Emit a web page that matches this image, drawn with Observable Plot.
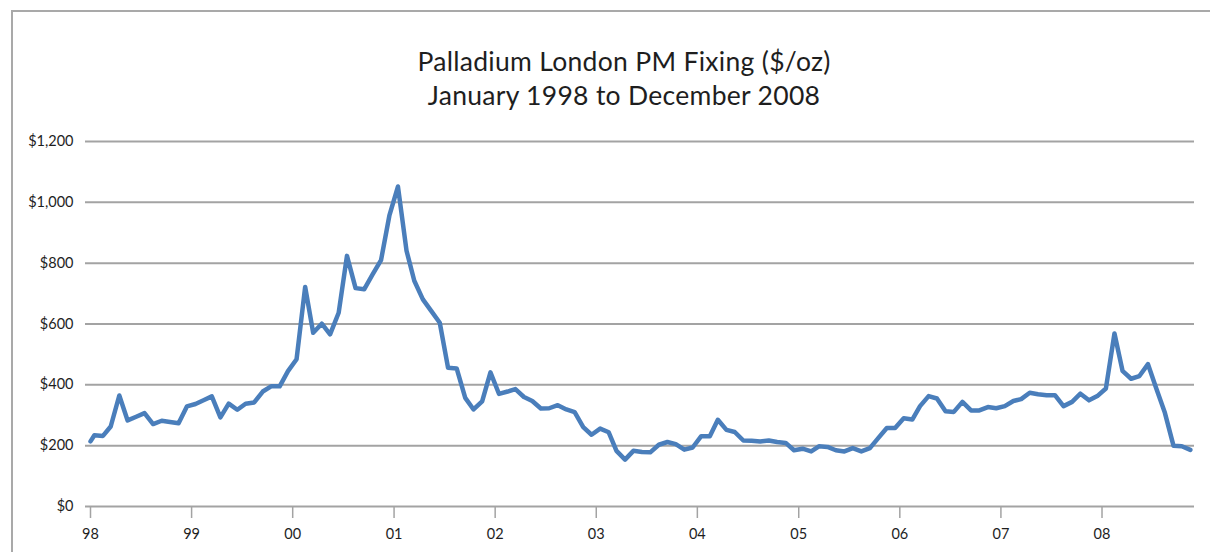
<!DOCTYPE html>
<html>
<head>
<meta charset="utf-8">
<script src="https://cdn.jsdelivr.net/npm/d3@7"></script>
<script src="https://cdn.jsdelivr.net/npm/@observablehq/plot@0.6"></script>
<style>
  html, body { margin: 0; padding: 0; background: #fff; }
  #wrap { position: relative; width: 1210px; height: 552px; overflow: hidden; font-family: Lato, "Open Sans", sans-serif; }
  #frame { position: absolute; left: 11px; top: 10px; width: 1300px; height: 700px; border-left: 2px solid #a9a9a9; border-top: 2px solid #a9a9a9; box-sizing: border-box; }
  #title { position: absolute; left: 24px; width: 1200px; top: 44px; text-align: center; color: #1e1e1e; font-size: 26.5px; letter-spacing: 0.3px; line-height: 34px; }
  #chart { position: absolute; left: 0; top: 0; }
</style>
</head>
<body>
<div id="wrap">
  <div id="frame"></div>
  <div id="chart"></div>
  <div id="title">Palladium London PM Fixing ($/oz)<br>January 1998 to December 2008</div>
</div>
<script>
// Monthly palladium London PM fixing readings ($/oz), first reading then Jan 1998 .. Nov 2008
const prices = [
  214,
  234, 232, 263, 365, 283, 295, 307, 271, 282, 278, 274, 329,
  337, 350, 362, 293, 338, 318, 338, 342, 378, 395, 395, 445,
  484, 722, 571, 601, 566, 637, 824, 718, 714, 762, 810, 956,
  1052, 841, 742, 681, 643, 604, 456, 454, 357, 319, 346, 441,
  370, 378, 386, 360, 347, 322, 323, 333, 319, 310, 261, 236,
  256, 244, 183, 154, 183, 179, 178, 203, 212, 205, 187, 194,
  231, 231, 285, 252, 245, 217, 216, 214, 217, 212, 209, 185,
  190, 181, 198, 196, 185, 181, 192, 181, 192, 225, 258, 258,
  290, 286, 330, 363, 355, 313, 311, 344, 316, 316, 327, 323,
  330, 347, 353, 374, 369, 366, 366, 330, 344, 371, 349, 363,
  388, 569, 446, 420, 429, 468, 388, 308, 200, 198, 186
];
const dates = [new Date(Date.UTC(1998, 0, 1)), ...d3.range(prices.length - 1).map(m => new Date(Date.UTC(1998, m, 15)))];
const yTicks = [0, 200, 400, 600, 800, 1000, 1200];
const yearTicks = d3.range(1998, 2009).map(y => new Date(Date.UTC(y, 0, 1)));
const xDomain = [new Date(Date.UTC(1998, 0, 1)), new Date(Date.UTC(2008, 11, 1))];

const data = prices.map((v, i) => ({date: dates[i], price: v}));

const chart = Plot.plot({
  width: 1210,
  height: 552,
  marginLeft: 85,
  marginRight: 16,
  marginTop: 141,
  marginBottom: 46,
  style: {fontFamily: "Lato, 'Open Sans', sans-serif", fontSize: "14.5px", color: "#1e1e1e", background: "transparent", overflow: "visible"},
  x: {type: "utc", domain: xDomain, range: [90, 1194.3]},
  y: {domain: [0, 1200]},
  marks: [
    Plot.ruleY(yTicks, {stroke: "#a3a3a3", strokeWidth: 2}),
    Plot.axisY({ticks: yTicks, tickFormat: d3.format("$,"), tickSize: 0, tickPadding: 12, fill: "#1e1e1e", fontSize: 14.5, label: null}),
    Plot.axisX({ticks: yearTicks, tickFormat: d3.utcFormat("%y"), tickSize: 12, tickPadding: 10, stroke: "#a3a3a3", strokeWidth: 1.5, fill: "#1e1e1e", fontSize: 14.5, label: null}),
    Plot.line(data, {x: "date", y: "price", stroke: "#4a7ebb", strokeWidth: 4.5, strokeLinejoin: "round", strokeLinecap: "round"})
  ],
  axis: null
});
document.getElementById("chart").appendChild(chart);
</script>
</body>
</html>
